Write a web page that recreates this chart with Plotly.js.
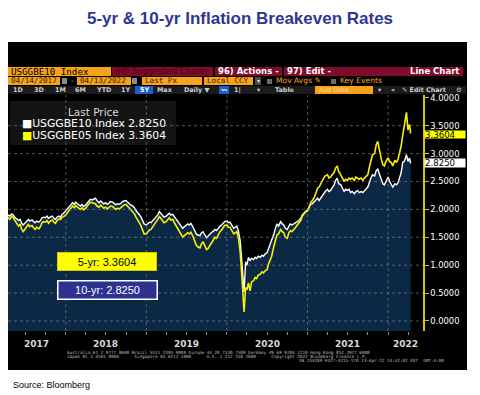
<!DOCTYPE html>
<html><head><meta charset="utf-8">
<script src="https://cdn.plot.ly/plotly-3.0.1.min.js"></script>
<style>html,body{margin:0;padding:0;background:#fff}#chart{width:480px;height:395px}</style>
</head><body><div id="chart"></div>
<script>
// ---- data ----
const dates = [
'2017-04-14','2017-04-22','2017-05-01','2017-05-08','2017-05-15','2017-05-22','2017-06-01','2017-06-08','2017-06-15','2017-06-22','2017-07-01','2017-07-08','2017-07-15','2017-07-22','2017-08-01','2017-08-08','2017-08-15','2017-08-22','2017-09-01','2017-09-08','2017-09-15','2017-09-22','2017-10-01','2017-10-08','2017-10-15','2017-10-22','2017-11-01','2017-11-08','2017-11-15','2017-11-22','2017-12-01','2017-12-08','2017-12-15','2017-12-22',
'2018-01-01','2018-01-08','2018-01-15','2018-01-22','2018-02-01','2018-02-08','2018-02-15','2018-02-22','2018-03-01','2018-03-08','2018-03-15','2018-03-22','2018-04-01','2018-04-08','2018-04-15','2018-04-22','2018-05-01','2018-05-08','2018-05-15','2018-05-22','2018-06-01','2018-06-08','2018-06-15','2018-06-22','2018-07-01','2018-07-08','2018-07-15','2018-07-22','2018-08-01','2018-08-08','2018-08-15','2018-08-22','2018-09-01','2018-09-08','2018-09-15','2018-09-22','2018-10-01','2018-10-08','2018-10-15','2018-10-22','2018-11-01','2018-11-08','2018-11-15','2018-11-22','2018-12-01','2018-12-08','2018-12-15','2018-12-22',
'2019-01-01','2019-01-08','2019-01-15','2019-01-22','2019-02-01','2019-02-08','2019-02-15','2019-02-22','2019-03-01','2019-03-08','2019-03-15','2019-03-22','2019-04-01','2019-04-08','2019-04-15','2019-04-22','2019-05-01','2019-05-08','2019-05-15','2019-05-22','2019-06-01','2019-06-08','2019-06-15','2019-06-22','2019-07-01','2019-07-08','2019-07-15','2019-07-22','2019-08-01','2019-08-08','2019-08-15','2019-08-22','2019-09-01','2019-09-08','2019-09-15','2019-09-22','2019-10-01','2019-10-08','2019-10-15','2019-10-22','2019-11-01','2019-11-08','2019-11-15','2019-11-22','2019-12-01','2019-12-08','2019-12-15','2019-12-22',
'2020-01-01','2020-01-08','2020-01-15','2020-01-22','2020-02-01','2020-02-08','2020-02-15','2020-02-22','2020-03-01','2020-03-08','2020-03-15','2020-03-19','2020-03-26','2020-04-01','2020-04-08','2020-04-15','2020-04-22','2020-05-01','2020-05-08','2020-05-15','2020-05-22','2020-06-01','2020-06-08','2020-06-15','2020-06-22','2020-07-01','2020-07-08','2020-07-15','2020-07-22','2020-08-01','2020-08-08','2020-08-15','2020-08-22','2020-09-01','2020-09-08','2020-09-15','2020-09-22','2020-10-01','2020-10-08','2020-10-15','2020-10-22','2020-11-01','2020-11-08','2020-11-15','2020-11-22','2020-12-01','2020-12-08','2020-12-15','2020-12-22',
'2021-01-01','2021-01-08','2021-01-15','2021-01-22','2021-02-01','2021-02-08','2021-02-15','2021-02-22','2021-03-01','2021-03-08','2021-03-15','2021-03-22','2021-04-01','2021-04-08','2021-04-15','2021-04-22','2021-05-01','2021-05-08','2021-05-15','2021-05-22','2021-06-01','2021-06-08','2021-06-15','2021-06-22','2021-07-01','2021-07-08','2021-07-15','2021-07-22','2021-08-01','2021-08-08','2021-08-15','2021-08-22','2021-09-01','2021-09-08','2021-09-15','2021-09-22','2021-10-01','2021-10-08','2021-10-15','2021-10-22','2021-11-01','2021-11-08','2021-11-15','2021-11-22','2021-12-01','2021-12-08','2021-12-15','2021-12-22',
'2022-01-01','2022-01-08','2022-01-15','2022-01-22','2022-02-01','2022-02-08','2022-02-15','2022-02-22','2022-03-01','2022-03-08','2022-03-15','2022-03-22','2022-03-25','2022-04-01','2022-04-08','2022-04-13'
];
// USGGBE10 Index (10-yr breakeven, white)
const be10 = [
1.90,1.88,1.92,1.90,1.86,1.84,1.80,1.82,1.75,1.72,1.76,1.80,1.82,1.79,1.81,1.78,1.76,1.79,1.77,1.80,1.85,1.86,1.85,1.88,1.84,1.86,1.88,1.84,1.82,1.86,1.88,1.86,1.91,1.93,
1.98,2.01,2.04,2.08,2.12,2.09,2.13,2.10,2.08,2.06,2.09,2.05,2.08,2.11,2.15,2.18,2.17,2.19,2.20,2.16,2.12,2.15,2.13,2.10,2.12,2.09,2.11,2.14,2.13,2.10,2.08,2.10,2.09,2.11,2.14,2.15,2.16,2.13,2.10,2.08,2.06,2.03,1.98,1.95,1.90,1.86,1.80,1.74,
1.72,1.74,1.77,1.76,1.80,1.84,1.87,1.90,1.96,1.93,1.90,1.86,1.88,1.91,1.93,1.90,1.91,1.87,1.83,1.80,1.73,1.70,1.66,1.69,1.71,1.74,1.72,1.75,1.68,1.61,1.56,1.54,1.53,1.58,1.60,1.55,1.49,1.52,1.56,1.58,1.61,1.64,1.62,1.66,1.70,1.72,1.75,1.78,
1.79,1.76,1.77,1.72,1.66,1.68,1.70,1.62,1.45,1.12,0.80,0.52,1.06,1.00,1.14,1.08,1.12,1.10,1.14,1.12,1.16,1.14,1.18,1.16,1.20,1.22,1.30,1.38,1.42,1.56,1.66,1.74,1.70,1.78,1.74,1.72,1.66,1.64,1.70,1.74,1.72,1.74,1.76,1.78,1.80,1.84,1.90,1.94,1.96,
1.99,2.05,2.09,2.10,2.14,2.18,2.20,2.16,2.20,2.26,2.30,2.32,2.36,2.32,2.34,2.38,2.44,2.52,2.56,2.46,2.44,2.38,2.32,2.36,2.34,2.36,2.30,2.32,2.28,2.32,2.34,2.30,2.32,2.30,2.34,2.36,2.40,2.50,2.56,2.62,2.60,2.70,2.72,2.64,2.54,2.46,2.44,2.50,
2.58,2.50,2.44,2.40,2.46,2.44,2.48,2.56,2.66,2.84,2.86,2.94,2.98,2.86,2.92,2.825
];
// USGGBE05 Index (5-yr breakeven, yellow)
const be05 = [
1.86,1.82,1.88,1.85,1.80,1.76,1.70,1.74,1.64,1.60,1.66,1.70,1.73,1.69,1.71,1.67,1.64,1.68,1.65,1.69,1.76,1.78,1.77,1.80,1.75,1.79,1.81,1.77,1.75,1.80,1.83,1.82,1.86,1.87,
1.90,1.94,1.98,2.02,2.06,2.03,2.07,2.04,2.02,2.00,2.03,1.99,2.02,2.06,2.10,2.13,2.12,2.11,2.10,2.06,2.04,2.08,2.05,2.02,2.04,2.01,2.03,2.06,2.05,2.02,2.00,2.02,2.01,2.03,2.06,2.08,2.09,2.06,2.02,1.99,1.96,1.92,1.86,1.82,1.76,1.70,1.64,1.56,
1.56,1.60,1.63,1.64,1.69,1.74,1.78,1.82,1.87,1.84,1.80,1.76,1.78,1.82,1.85,1.81,1.82,1.76,1.71,1.67,1.59,1.55,1.50,1.53,1.56,1.58,1.56,1.59,1.51,1.42,1.36,1.33,1.31,1.38,1.42,1.36,1.28,1.30,1.34,1.39,1.45,1.50,1.48,1.54,1.60,1.63,1.67,1.71,
1.72,1.68,1.68,1.62,1.56,1.58,1.60,1.50,1.25,0.85,0.45,0.16,0.60,0.56,0.68,0.54,0.70,0.72,0.78,0.76,0.82,0.84,0.88,0.86,0.90,0.92,1.02,1.10,1.16,1.34,1.44,1.54,1.56,1.64,1.60,1.58,1.50,1.48,1.58,1.62,1.60,1.64,1.68,1.72,1.76,1.80,1.88,1.92,1.95,
1.97,2.06,2.12,2.16,2.22,2.30,2.38,2.40,2.46,2.52,2.56,2.60,2.62,2.56,2.58,2.62,2.66,2.74,2.78,2.68,2.62,2.56,2.50,2.54,2.52,2.56,2.54,2.56,2.52,2.58,2.56,2.54,2.56,2.52,2.56,2.58,2.62,2.76,2.86,2.98,3.00,3.16,3.22,3.06,2.90,2.80,2.78,2.86,
2.92,2.86,2.84,2.78,2.88,2.84,2.90,3.02,3.14,3.32,3.48,3.60,3.74,3.42,3.52,3.3604
];
const yearLabels = ['2017','2018','2019','2020','2021','2022'];
const yearLabelDates = ['2017-08-23','2018-07-02','2019-07-02','2020-07-01','2021-07-02','2022-03-20'];
const yearBounds = ['2018-01-01','2019-01-01','2020-01-01','2021-01-01','2022-01-01'];
const yTicks = [0,0.5,1,1.5,2,2.5,3,3.5,4];
const last10 = '2.8250', last05 = '3.3604';

// ---- geometry / styles ----
const L=8,T=95,R=423,B=331;
const yRange=[-0.18,4.05];
const xRange=['2017-04-14','2022-06-08'];
const px = x => (x-L)/(R-L);
const py = y => (B-y)/(B-T);
const ORANGE='#f6a21c', RED='#7e0c2a', NAVY='#0b2845', YEL='#ffff00';
const shapes=[], ann=[];
function rect(x0,y0,x1,y1,fill,layer){shapes.push({type:'rect',xref:'paper',yref:'paper',x0:px(x0),x1:px(x1),y0:py(y1),y1:py(y0),fillcolor:fill,line:{width:0},layer:layer||'above'});}
function txt(x,y,s,o){o=o||{};ann.push({xref:'paper',yref:'paper',x:px(x),y:py(y),text:s,showarrow:false,xanchor:o.anchor||'left',yanchor:'middle',borderpad:0,
  font:{family:o.family||'DejaVu Sans',size:o.size||8,color:o.color||'#000',weight:o.weight||'normal'}});}

// panel
rect(8,42,467,370,'#000','below');
// row 1
rect(8,67,111,76,ORANGE);
txt(10,71.5,'USGGBE10 Index',{family:'DejaVu Sans Mono',size:9.2});
rect(112,67,463,76,RED);
rect(213,67,215,76,'#000');rect(282,67,284,76,'#000');
txt(114,71.5,'94) Suggested Charts',{size:8.5,color:'#4a0717'});
txt(217,71.5,'96) Actions -',{size:8.5,color:'#fff',weight:'bold'});
txt(286,71.5,'97) Edit -',{size:8.5,color:'#fff',weight:'bold'});
txt(460,71.5,'Line Chart',{size:8.5,color:'#fff',weight:'bold',anchor:'right'});
// row 2
const r2={family:'DejaVu Sans Mono',size:7.6,color:'#3a1a00'};
rect(8,77,60,85,ORANGE);txt(10,81,'04/14/2017',r2);
rect(62,78,67,84,'#8a8a8a');
txt(70,81,'-',{color:'#ccc',size:7});
rect(77,77,131,85,ORANGE);txt(79,81,'04/13/2022',r2);
rect(132,78,137,84,'#8a8a8a');
rect(142,77,202,85,ORANGE);txt(144,81,'Last Px',r2);
rect(204,77,253,85,ORANGE);txt(206,81,'Local CCY',r2);
rect(255,77,261,85,'#4a4a4a');txt(258,81,'▾',{color:'#ddd',size:6,anchor:'center'});
rect(267,79,272,84,'#6a6a6a');txt(275,81,'Mov Avgs ✎',{color:ORANGE,size:7.6});
rect(331,79,336,84,'#6a6a6a');txt(339,81,'Key Events',{color:ORANGE,size:7.6});
// row 3
rect(8,86,466,94,'#1b1b1b');
[['1D',18],['3D',39],['1M',60],['6M',80],['YTD',103],['1Y',125],['Max',165],['Daily ▼',196],['1|',237],['▾',259],['Table',285],['▾',380],['«',393],['⚙',459]]
  .forEach(b=>txt(b[1],89.8,b[0],{size:6.4,color:'#cfcfcf',anchor:'center',weight:'bold'}));
rect(135,86,153,94,'#1a5fd6');txt(144,89.8,'5Y',{size:6.4,color:'#fff',anchor:'center',weight:'bold'});
rect(219,86,229,94,'#1a5fd6');txt(224,89.8,'〰',{size:5.5,color:'#fff',anchor:'center'});
rect(315,86,373,94,ORANGE);txt(318,89.8,'Add Data',{size:6.4,color:'#ffd59a'});
txt(401,89.8,'✎ Edit Chart',{size:6.4,color:'#cfcfcf',weight:'bold'});

// legend box
rect(10,101,176,145,'#141414');
txt(93,111.5,'Last Price',{size:10.5,color:'#d8d8d8',anchor:'center'});
txt(21,123.5,'<span style="color:#ffffff">■</span>USGGBE10 Index 2.8250',{size:10.8,color:'#fff'});
txt(21,135.5,'<span style="color:#ffff00">■</span>USGGBE05 Index 3.3604',{size:10.8,color:'#fff'});

// gridlines (dotted, above fill)
yTicks.slice(0,8).forEach(v=>shapes.push({type:'line',xref:'paper',yref:'y',x0:0,x1:1,y0:v,y1:v,line:{color:'rgba(150,150,150,0.55)',width:1,dash:'dot'},layer:'above'}));
yearBounds.forEach(d=>shapes.push({type:'line',xref:'x',yref:'paper',x0:d,x1:d,y0:0,y1:1,line:{color:'rgba(150,150,150,0.55)',width:1,dash:'dot'},layer:'above'}));
// navy fill under zero down to plot bottom
shapes.push({type:'rect',xref:'x',yref:'y',x0:dates[0],x1:dates[dates.length-1],y0:yRange[0],y1:0.01,fillcolor:NAVY,line:{width:0},layer:'below'});

// year labels
yearLabels.forEach((t,i)=>ann.push({xref:'x',yref:'paper',x:yearLabelDates[i],y:py(343.5),text:t,showarrow:false,xanchor:'center',yanchor:'middle',borderpad:0,font:{family:'DejaVu Sans',size:9,color:'#d8d8d8',weight:'bold'}}));
// fine print
const fp={family:'DejaVu Sans Mono',size:4.3,color:'#bdbdbd'};
txt(66,352,'Australia 61 2 9777 8600 Brazil 5511 2395 9000 Europe 44 20 7330 7500 Germany 49 69 9204 1210 Hong Kong 852 2977 6000',fp);
txt(66,356,'Japan 81 3 4565 8900      Singapore 65 6212 1000      U.S. 1 212 318 2000      Copyright 2022 Bloomberg Finance L.P.',fp);
txt(298,360,'SN 234289 H427-4215-170 13-Apr-22 14:42:02 EDT  GMT-4:00',fp);

// callout boxes
ann.push({xref:'paper',yref:'paper',x:px(107),y:py(261.5),text:'5-yr: '+last05,showarrow:false,xanchor:'center',yanchor:'middle',
  width:96,height:15,bgcolor:'#ffff00',bordercolor:'#cfcf00',borderwidth:1,borderpad:1,font:{family:'Liberation Sans',size:11,color:'#000'}});
ann.push({xref:'paper',yref:'paper',x:px(107),y:py(290),text:'10-yr: '+last10,showarrow:false,xanchor:'center',yanchor:'middle',
  width:96,height:15,bgcolor:'#2d3190',bordercolor:'#ffffff',borderwidth:1.5,borderpad:1,font:{family:'Liberation Sans',size:11,color:'#fff'}});
// last value tags
ann.push({xref:'paper',yref:'y',x:1,y:parseFloat(last05),text:last05,showarrow:false,xanchor:'left',yanchor:'middle',xshift:1,yshift:-1,
  width:40,height:7,align:'left',bgcolor:YEL,borderpad:0,font:{family:'DejaVu Sans',size:8.6,color:'#000'}});
ann.push({xref:'paper',yref:'y',x:1,y:parseFloat(last10),text:last10,showarrow:false,xanchor:'left',yanchor:'middle',xshift:1,
  width:40,height:7.5,align:'left',bgcolor:'#ffffff',borderpad:0,font:{family:'DejaVu Sans',size:8.6,color:'#000'}});
// source
txt(12,385,'Source: Bloomberg',{family:'Liberation Sans',size:9,color:'#000'});

const traces=[
 {x:dates,y:be10,type:'scatter',mode:'lines',name:'USGGBE10 Index',fill:'tozeroy',fillcolor:NAVY,line:{color:'#ffffff',width:1.4},hoverinfo:'skip'},
 {x:dates,y:be05,type:'scatter',mode:'lines',name:'USGGBE05 Index',line:{color:'#f8f000',width:1.6},hoverinfo:'skip'}
];
const layout={
 width:480,height:395,margin:{l:L,r:480-R,t:T,b:395-B,pad:0},
 paper_bgcolor:'#ffffff',plot_bgcolor:'#000000',showlegend:false,
 title:{text:'<b>5-yr & 10-yr Inflation Breakeven Rates</b>',x:0.5,xanchor:'center',y:1-18/395,yanchor:'middle',font:{family:'Liberation Sans',size:17,color:'#2e3790'}},
 xaxis:{type:'date',range:xRange,tickmode:'array',tickvals:yearBounds,ticktext:yearBounds.map(()=>''),showticklabels:false,ticks:'outside',ticklen:19,tickcolor:'#8c8c8c',tickwidth:1,showgrid:false,zeroline:false,showline:false,fixedrange:true,
   minor:{ticks:'outside',ticklen:3,tickcolor:'#8c8c8c',dtick:'M3',tick0:'2017-01-01',showgrid:false}},
 yaxis:{side:'right',range:yRange,tickmode:'array',tickvals:yTicks,ticktext:yTicks.map(v=>v.toFixed(4)),showgrid:false,zeroline:false,showline:true,linecolor:'#d8c400',linewidth:1.5,
   ticks:'outside',ticklen:4,tickcolor:'#d8c400',tickfont:{family:'DejaVu Sans',size:8.4,color:'#ffffff'},fixedrange:true},
 shapes:shapes,annotations:ann
};
Plotly.newPlot('chart',traces,layout,{displayModeBar:false,staticPlot:true});
</script></body></html>
